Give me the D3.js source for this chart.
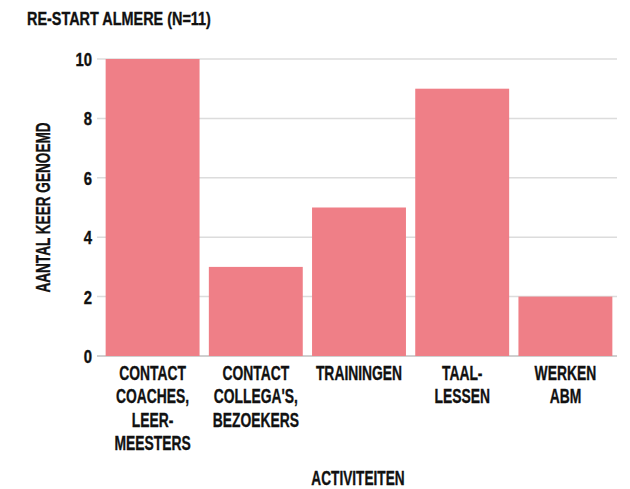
<!DOCTYPE html>
<html>
<head>
<meta charset="utf-8">
<script src="https://cdn.jsdelivr.net/npm/d3@7"></script>
<style>
  body { margin: 0; background: #fff; }
  text { font-family: "Liberation Sans", Arial, sans-serif; font-weight: bold; fill: #111; stroke: #111; stroke-width: 0.35px; }
</style>
</head>
<body>
<div id="chart"></div>
<script>
// data
let categories = ["CONTACT COACHES, LEERMEESTERS", "CONTACT COLLEGA'S, BEZOEKERS", "TRAININGEN", "TAALLESSEN", "WERKEN ABM"];
let tick_lines = [
  ["CONTACT", "COACHES,", "LEER-", "MEESTERS"],
  ["CONTACT", "COLLEGA'S,", "BEZOEKERS"],
  ["TRAININGEN"],
  ["TAAL-", "LESSEN"],
  ["WERKEN", "ABM"]
];
let values = [10, 3, 5, 9, 2];
let y_ticks = [0, 2, 4, 6, 8, 10];

let chart_width = 630;
let chart_height = 489;

let svg = d3.select("#chart")
  .append("svg")
  .attr("width", chart_width)
  .attr("height", chart_height);

// scales
let x_scale = d3.scaleBand()
  .domain(categories)
  .range([101, 617])
  .paddingInner(0.09)
  .paddingOuter(0.045);

let y_scale = d3.scaleLinear()
  .domain([0, 10])
  .range([356, 59]);

// no condensed font installed, so squeeze a normal bold one horizontally
let squeeze = 0.68;

// title
svg.append("text")
  .attr("transform", "translate(27,25) scale(0.78,1)")
  .style("font-size", "18.5px")
  .text("RE-START ALMERE (N=11)");

// gridlines
svg.selectAll("line.grid")
  .data(y_ticks)
  .enter()
  .append("line")
  .attr("class", "grid")
  .attr("x1", 97)
  .attr("x2", 617)
  .attr("y1", d => y_scale(d))
  .attr("y2", d => y_scale(d))
  .attr("stroke", d => d === 0 ? "#cfcfcf" : "#dcdcdc")
  .attr("stroke-width", d => d === 0 ? 2 : 1.5);

// y tick labels
svg.selectAll("text.ytick")
  .data(y_ticks)
  .enter()
  .append("text")
  .attr("class", "ytick")
  .attr("text-anchor", "end")
  .attr("transform", d => "translate(92," + (y_scale(d) + 7) + ") scale(0.85,1)")
  .style("font-size", "17.5px")
  .text(d => d);

// bars
svg.selectAll("rect")
  .data(values)
  .enter()
  .append("rect")
  .attr("x", (d, i) => x_scale(categories[i]))
  .attr("y", d => y_scale(d))
  .attr("width", x_scale.bandwidth())
  .attr("height", d => y_scale(0) - y_scale(d))
  .attr("fill", "#ef7f87");

// x tick labels (multi line)
let xt = svg.selectAll("text.xtick")
  .data(tick_lines)
  .enter()
  .append("text")
  .attr("class", "xtick")
  .attr("text-anchor", "middle")
  .style("font-size", "21px")
  .attr("transform", (d, i) => "translate(" + (x_scale(categories[i]) + x_scale.bandwidth() / 2) + ",380) scale(0.66,1)");

xt.selectAll("tspan")
  .data(d => d)
  .enter()
  .append("tspan")
  .attr("x", 0)
  .attr("y", (d, j) => j * 23.3)
  .text(d => d);

// axis titles
svg.append("text")
  .attr("transform", "translate(50,207.5) rotate(-90) scale(" + squeeze + ",1)")
  .attr("text-anchor", "middle")
  .style("font-size", "20px")
  .text("AANTAL KEER GENOEMD");

svg.append("text")
  .attr("transform", "translate(358,485) scale(0.7,1)")
  .attr("text-anchor", "middle")
  .style("font-size", "19.5px")
  .text("ACTIVITEITEN");
</script>
</body>
</html>
